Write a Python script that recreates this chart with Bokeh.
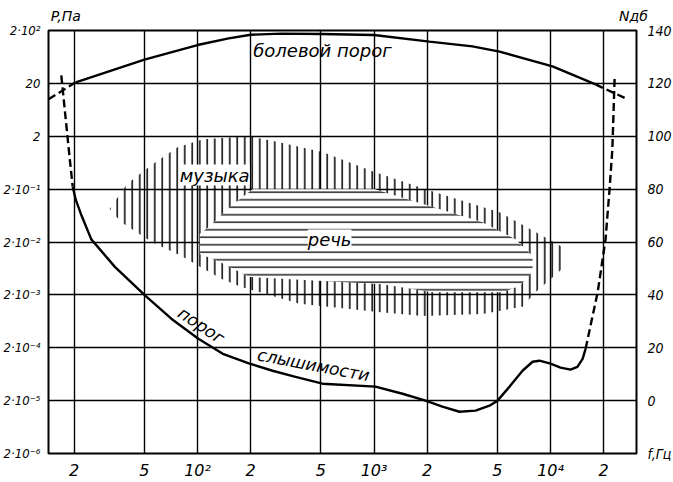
from bokeh.plotting import figure
from bokeh.models import FixedTicker, LinearAxis, LogAxis, Label
from bokeh.embed import file_html
from bokeh.resources import INLINE

# ---------------- data ----------------
freq_ticks = [20, 50, 100, 200, 500, 1000, 2000, 5000, 10000, 20000]
freq_labels = ["2", "5", "10²", "2", "5", "10³", "2", "5", "10⁴", "2"]

db_ticks = [-20, 0, 20, 40, 60, 80, 100, 120, 140]
pa_labels = ["2·10⁻⁶", "2·10⁻⁵", "2·10⁻⁴", "2·10⁻³", "2·10⁻²", "2·10⁻¹", "2", "20", "2·10²"]
n_ticks = [-20, 0, 20, 40, 60, 80, 100, 120, 140]
n_labels = ["f,Гц", "0", "20", "40", "60", "80", "100", "120", "140"]

# axis titles placed above the frame (frequency where each is centred)
title_pos = [17.9, 29500]
title_txt = ["P,Па", "Nдб"]

# pain threshold (болевой порог)
pain_dash_l_f = [14.3, 20.4]
pain_dash_l_db = [114, 120.4]
pain_f = [20.4, 50, 100, 150, 200, 300, 500, 1000, 2060, 3610, 5140, 10260, 18000]
pain_db = [120.4, 129, 134.5, 137, 138.4, 138.8, 138.7, 138.3, 135.8, 134, 132, 126.4, 119.6]
pain_dash_r_f = [18000, 27300]
pain_dash_r_db = [119.6, 114]

# threshold of hearing (порог слышимости)
thr_dash_l_f = [16.9, 18.8, 19.6]
thr_dash_l_db = [123, 92.5, 81]
thr_f = [19.6, 20.4, 22, 25, 34, 50.7, 71, 101, 139, 197, 266, 359, 510, 1018, 1450,
         1957, 2440, 3050, 3760, 4510, 5010, 5860, 6940, 7910, 8660, 10000, 11400,
         12980, 14200, 15200, 15800]
thr_db = [81, 76, 70, 61, 50.6, 39.6, 31, 23.4, 17.7, 14, 11.3, 9, 6.4, 5.3, 2.6,
          0, -2.3, -4.2, -3.8, -1.9, 0, 5.3, 11.3, 14.7, 15.1, 14, 12.5,
          11.7, 12.8, 15.8, 19.6]
thr_dash_r_f = [15800, 18500, 20500, 21600, 22400, 23100]
thr_dash_r_db = [19.6, 41, 61, 80, 95, 123]

# music area (музыка)
music_f = [31.7, 40, 55.6, 77, 107, 197, 277, 510, 980, 1960, 5140, 8220, 12200,
           12200, 8220, 6940, 4120, 1880, 1020, 378, 266, 177, 137, 101, 81, 55, 37]
music_db = [72.5, 82, 89.4, 95.8, 98.9, 100, 98, 94, 86.8, 80, 71.3, 63.8, 57.4,
            51, 41, 35.5, 32.8, 32, 33.6, 36.6, 39.6, 43, 46, 51, 54.7, 60, 67.5]

# speech area (речь)
speech_f = [205, 1010, 2060, 4120, 6340, 7910, 7910, 6670, 5350, 2140, 1120, 197,
            133, 103, 103, 117, 152]
speech_db = [80, 80, 73.6, 67.5, 61, 54.7, 48.7, 43.4, 41, 41, 44, 46.8,
             52.5, 55.5, 63, 66, 73.2]

FONT = "DejaVu Sans"
FONT_C = "DejaVu Sans Condensed"

p = figure(frame_width=588, frame_height=423, x_axis_type="log",
           x_range=(14.3, 30700), y_range=(-20, 140),
           output_backend="svg", toolbar_location=None,
           min_border_left=38, min_border_right=31, min_border_top=30, min_border_bottom=18)
p.background_fill_color = "white"
p.border_fill_color = "white"
p.outline_line_color = "black"
p.outline_line_width = 2
p.outline_line_alpha = 1

bottom = p.below[0]
left = p.left[0]

# axes
bottom.ticker = FixedTicker(ticks=freq_ticks)
bottom.major_label_overrides = {t: l for t, l in zip(freq_ticks, freq_labels)}
left.ticker = FixedTicker(ticks=db_ticks)
left.major_label_overrides = {t: l for t, l in zip(db_ticks, pa_labels)}
right = LinearAxis(ticker=FixedTicker(ticks=n_ticks),
                   major_label_overrides={t: l for t, l in zip(n_ticks, n_labels)})
p.add_layout(right, "right")
top = LogAxis(ticker=FixedTicker(ticks=title_pos),
              major_label_overrides={t: l for t, l in zip(title_pos, title_txt)})
p.add_layout(top, "above")

for ax in [bottom, left, right, top]:
    ax.axis_line_color = None
    ax.major_tick_line_color = None
    ax.minor_tick_line_color = None
    ax.major_label_text_font = FONT
    ax.major_label_text_font_style = "italic"
    ax.major_label_text_color = "black"
bottom.major_label_text_font_size = "16px"
bottom.major_label_standoff = 1
left.major_label_text_font = FONT_C
left.major_label_text_font_size = "13px"
left.major_label_standoff = 2
right.major_label_text_font = FONT_C
right.major_label_text_font_size = "14px"
right.major_label_standoff = 5
top.major_label_text_font_size = "14px"
top.major_label_standoff = 1

for g in [p.xgrid[0], p.ygrid[0]]:
    g.grid_line_color = "black"
    g.grid_line_alpha = 1
    g.grid_line_width = 1.4
p.xgrid.ticker = FixedTicker(ticks=freq_ticks)
p.ygrid.ticker = FixedTicker(ticks=db_ticks)

# areas
p.patch(music_f, music_db, fill_color=None, line_color=None,
        hatch_pattern="|", hatch_color="black", hatch_weight=1.5, hatch_scale=7.5)
p.patch(speech_f, speech_db, fill_color="white", line_color=None,
        hatch_pattern="-", hatch_color="black", hatch_weight=1.3, hatch_scale=7.5)

# curves
LW = 2.4
p.line(pain_f, pain_db, line_color="black", line_width=LW)
p.line(pain_dash_l_f, pain_dash_l_db, line_color="black", line_width=LW, line_dash="8 4")
p.line(pain_dash_r_f, pain_dash_r_db, line_color="black", line_width=LW, line_dash="8 4")
p.line(thr_f, thr_db, line_color="black", line_width=LW)
p.line(thr_dash_l_f, thr_dash_l_db, line_color="black", line_width=LW, line_dash="8 4")
p.line(thr_dash_r_f, thr_dash_r_db, line_color="black", line_width=LW, line_dash="8 4")

# texts
def lab(x, y, text, size="16px", angle=0.0, bg=None):
    l = Label(x=x, y=y, text=text, angle=angle, text_font=FONT, text_font_style="italic",
              text_font_size=size, text_color="black", text_align="center",
              text_baseline="middle")
    if bg:
        l.background_fill_color = bg
    p.add_layout(l)

lab(510, 132.5, "болевой порог", size="18px")
lab(125, 85.3, "музыка", size="18px", bg="white")
lab(560, 60.8, "речь", size="18px", bg="white")
lab(105, 28.5, "порог", size="17px", angle=-0.59)
lab(454, 13.5, "слышимости", size="17px", angle=-0.185)

open("out.html", "w").write(file_html(p, INLINE))
